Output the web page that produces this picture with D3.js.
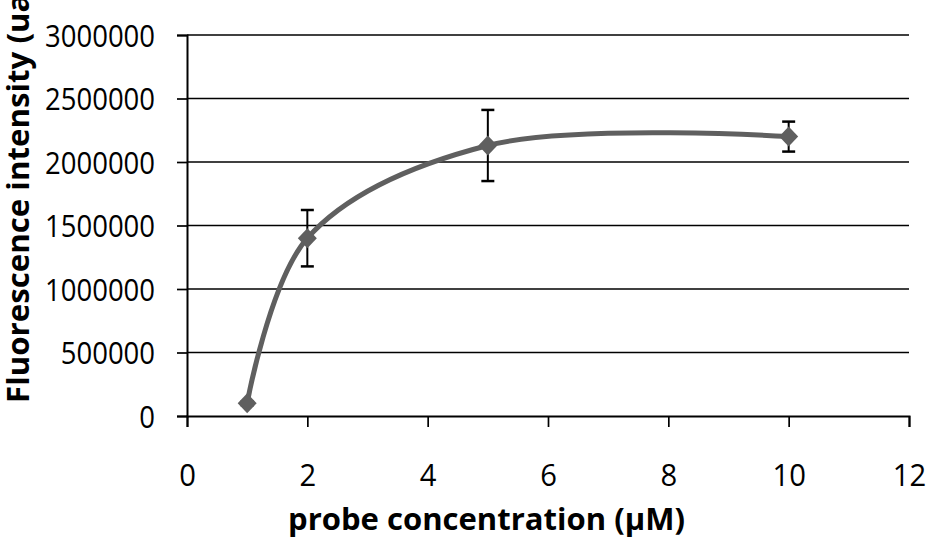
<!DOCTYPE html>
<html>
<head>
<meta charset="utf-8">
<script src="https://cdn.jsdelivr.net/npm/d3@7"></script>
<style>
  body { margin: 0; background: #fff; }
  svg { display: block; font-family: "Open Sans", sans-serif; }
</style>
</head>
<body>
<svg id="chart" width="927" height="541"></svg>
<script>
// data
const concentrations = [1, 2, 5, 10];
const intensities = [100000, 1400000, 2130000, 2200000];
const errors = [15000, 222000, 280000, 118000];
const xTicks = [0, 2, 4, 6, 8, 10, 12];
const yTicks = [0, 500000, 1000000, 1500000, 2000000, 2500000, 3000000];

const points = concentrations.map((c, i) => ({ x: c, y: intensities[i], err: errors[i] }));

const margin = { top: 35, right: 18, bottom: 125, left: 187 };
const width = 927 - margin.left - margin.right;
const height = 541 - margin.top - margin.bottom;
const digitWidth = 15.7; // narrow, Calibri-like digits

const svg = d3.select("#chart");
const g = svg.append("g").attr("transform", `translate(${margin.left},${margin.top})`);

const x = d3.scaleLinear().domain([0, 12]).range([0, width]);
const y = d3.scaleLinear().domain([0, 3000000]).range([height, 0]);

// horizontal gridlines
g.selectAll("line.grid")
  .data(yTicks.filter(d => d > 0))
  .join("line")
  .attr("class", "grid")
  .attr("x1", 0).attr("x2", width)
  .attr("y1", d => y(d)).attr("y2", d => y(d))
  .attr("stroke", "#000").attr("stroke-width", 1.7);

// y axis
const yAxis = g.append("g")
  .call(d3.axisLeft(y).tickValues(yTicks).tickSize(10).tickPadding(22).tickFormat(d3.format("d")));
yAxis.select(".domain").attr("stroke-width", 2);
yAxis.selectAll(".tick line").attr("stroke-width", 1.7);
yAxis.selectAll(".tick text")
  .attr("fill", "#000")
  .attr("textLength", d => String(d).length * digitWidth)
  .attr("lengthAdjust", "spacingAndGlyphs")
  .style("font-family", "'Open Sans', sans-serif")
  .style("font-size", "31px")
  .attr("dy", "0.36em");

// x axis
const xAxis = g.append("g")
  .attr("transform", `translate(0,${height})`)
  .call(d3.axisBottom(x).tickValues(xTicks).tickSize(11));
xAxis.select(".domain").attr("stroke-width", 2);
xAxis.selectAll(".tick line").attr("stroke-width", 1.7);
xAxis.selectAll(".tick text")
  .attr("fill", "#000")
  .attr("y", 59)
  .attr("dy", "0.36em")
  .attr("textLength", d => String(d).length * (digitWidth + 1))
  .attr("lengthAdjust", "spacingAndGlyphs")
  .style("font-family", "'Open Sans', sans-serif")
  .style("font-size", "31px");

// smoothed line
const line = d3.line()
  .x(d => x(d.x))
  .y(d => y(d.y))
  .curve(d3.curveCatmullRom.alpha(0.5));

g.append("path")
  .datum(points)
  .attr("d", line)
  .attr("fill", "none")
  .attr("stroke", "#5f5f5f")
  .attr("stroke-width", 5);

// error bars
const eb = g.selectAll("g.err").data(points).join("g").attr("class", "err");
eb.append("line")
  .attr("x1", d => x(d.x)).attr("x2", d => x(d.x))
  .attr("y1", d => y(d.y - d.err)).attr("y2", d => y(d.y + d.err))
  .attr("stroke", "#000").attr("stroke-width", 2);
eb.append("line")
  .attr("x1", d => x(d.x) - 6.5).attr("x2", d => x(d.x) + 6.5)
  .attr("y1", d => y(d.y + d.err)).attr("y2", d => y(d.y + d.err))
  .attr("stroke", "#000").attr("stroke-width", 2.5);
eb.append("line")
  .attr("x1", d => x(d.x) - 6.5).attr("x2", d => x(d.x) + 6.5)
  .attr("y1", d => y(d.y - d.err)).attr("y2", d => y(d.y - d.err))
  .attr("stroke", "#000").attr("stroke-width", 2.5);

// diamond markers
g.selectAll("path.marker")
  .data(points)
  .join("path")
  .attr("class", "marker")
  .attr("transform", d => `translate(${x(d.x)},${y(d.y)})`)
  .attr("d", "M0,-10L9.5,0L0,10L-9.5,0Z")
  .attr("fill", "#5f5f5f");

// axis titles
svg.append("text")
  .attr("x", 486.5)
  .attr("y", 530)
  .attr("text-anchor", "middle")
  .attr("textLength", 397)
  .attr("lengthAdjust", "spacingAndGlyphs")
  .style("font-size", "31px")
  .style("font-weight", "bold")
  .text("probe concentration (µM)");

// the reference cuts this title at the top edge
svg.append("text")
  .attr("transform", "translate(29,403) rotate(-90)")
  .attr("text-anchor", "start")
  .attr("textLength", 420)
  .attr("lengthAdjust", "spacingAndGlyphs")
  .style("font-size", "30px")
  .style("font-weight", "bold")
  .text("Fluorescence intensity (ua)");
</script>
</body>
</html>
